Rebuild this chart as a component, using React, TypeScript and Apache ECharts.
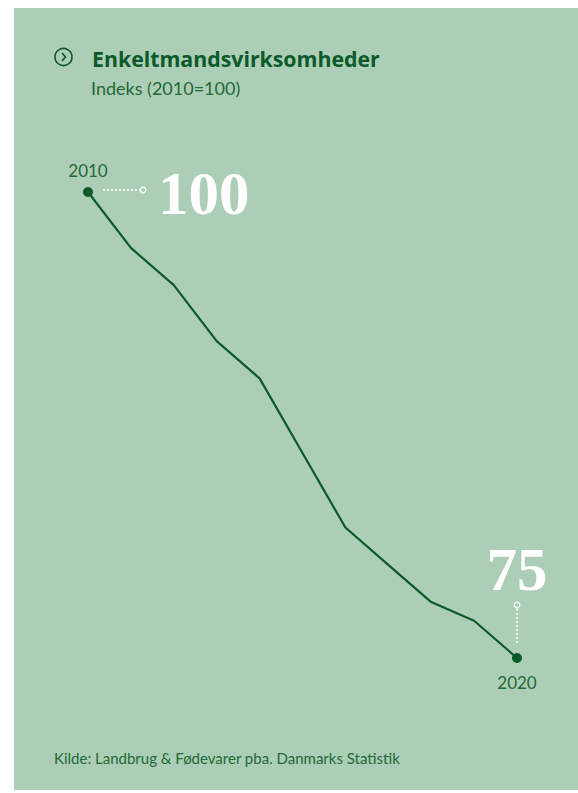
import React, { useEffect, useRef } from "react";
import * as echarts from "echarts";

const years = ["2010", "2011", "2012", "2013", "2014", "2015", "2016", "2017", "2018", "2019", "2020"];
const indexValues = [100, 97, 95, 92, 90, 86, 82, 80, 78, 77, 75];
const titleText = "Enkeltmandsvirksomheder";
const subtitleText = "Indeks (2010=100)";
const sourceText = "Kilde: Landbrug & Fødevarer pba. Danmarks Statistik";

const BG = "#adceb6";
const DARK = "#0b5a2a";
const TXT = "#226a37";
const BIG_FONT = "bold 61px 'Liberation Serif', 'DejaVu Serif', serif";

export default function App() {
  const ref = useRef<HTMLDivElement>(null);
  useEffect(() => {
    if (!ref.current) return;
    const chart = echarts.init(ref.current, null, { renderer: "svg" });
    const last = years.length - 1;
    const option: any = {
      animation: false,
      backgroundColor: "#ffffff",
      grid: { left: 88, right: 61, top: 192, bottom: 793 - 658, containLabel: false },
      xAxis: {
        type: "category",
        data: years,
        boundaryGap: false,
        show: false,
      },
      yAxis: {
        type: "value",
        min: 75,
        max: 100,
        show: false,
      },
      series: [
        {
          type: "line",
          data: indexValues.map((v, i) => {
            const endpoint = i === 0 || i === last;
            return {
              value: v,
              symbol: endpoint ? "circle" : "none",
              symbolSize: endpoint ? 10 : 0,
              label: endpoint
                ? {
                    show: true,
                    formatter: years[i],
                    position: i === 0 ? "top" : "bottom",
                    distance: i === 0 ? 8 : 11,
                    color: TXT,
                    fontSize: 17,
                    fontFamily: "Lato, 'Open Sans', sans-serif",
                  }
                : { show: false },
            };
          }),
          showSymbol: true,
          lineStyle: { color: DARK, width: 2.2 },
          itemStyle: { color: DARK },
          z: 5,
        },
      ],
    };
    chart.setOption(option);

    const p0 = chart.convertToPixel({ gridIndex: 0 }, [years[0], indexValues[0]]) as number[];
    const p1 = chart.convertToPixel({ gridIndex: 0 }, [years[last], indexValues[last]]) as number[];

    chart.setOption({
      graphic: [
        { type: "rect", z: -10, shape: { x: 14, y: 8, width: 564, height: 782 }, style: { fill: BG } },
        { type: "circle", shape: { cx: 63.5, cy: 57, r: 8.5 }, style: { fill: "none", stroke: DARK, lineWidth: 1.6 } },
        { type: "polyline", shape: { points: [[62, 53], [65.5, 57], [62, 61]] }, style: { fill: "none", stroke: DARK, lineWidth: 1.7 } },
        {
          type: "text", x: 92, y: 58,
          style: { text: titleText, fill: DARK, font: "bold 21.3px 'Open Sans', Lato, sans-serif", textVerticalAlign: "middle" },
        },
        {
          type: "text", x: 91, y: 87.5,
          style: { text: subtitleText, fill: TXT, font: "18px Lato, 'Open Sans', sans-serif", textVerticalAlign: "middle" },
        },
        // 2010 connector
        {
          type: "line", shape: { x1: p0[0] + 15, y1: p0[1] - 2, x2: p0[0] + 52, y2: p0[1] - 2 },
          style: { stroke: "#ffffff", lineWidth: 1.5, lineDash: [2, 2] },
        },
        { type: "circle", shape: { cx: p0[0] + 55, cy: p0[1] - 2, r: 2.8 }, style: { fill: BG, stroke: "#ffffff", lineWidth: 1.3 } },
        {
          type: "text", x: p0[0] + 70, y: p0[1] + 1,
          style: { text: String(indexValues[0]), fill: "#ffffff", font: BIG_FONT, textVerticalAlign: "middle" },
        },
        // 2020 connector
        {
          type: "line", shape: { x1: p1[0], y1: p1[1] - 49, x2: p1[0], y2: p1[1] - 13 },
          style: { stroke: "#ffffff", lineWidth: 1.5, lineDash: [2, 2] },
        },
        { type: "circle", shape: { cx: p1[0], cy: p1[1] - 53, r: 2.8 }, style: { fill: BG, stroke: "#ffffff", lineWidth: 1.3 } },
        {
          type: "text", x: p1[0], y: p1[1] - 88.5,
          style: { text: String(indexValues[last]), fill: "#ffffff", font: BIG_FONT, textAlign: "center", textVerticalAlign: "middle" },
        },
        {
          type: "text", x: 54, y: 757.5,
          style: { text: sourceText, fill: TXT, font: "15px Lato, 'Open Sans', sans-serif", textVerticalAlign: "middle" },
        },
      ],
    });
    return () => chart.dispose();
  }, []);
  return (
    <div
      ref={ref}
      style={{ position: "fixed", left: 0, top: 0, width: 578, height: 793 }}
    />
  );
}
